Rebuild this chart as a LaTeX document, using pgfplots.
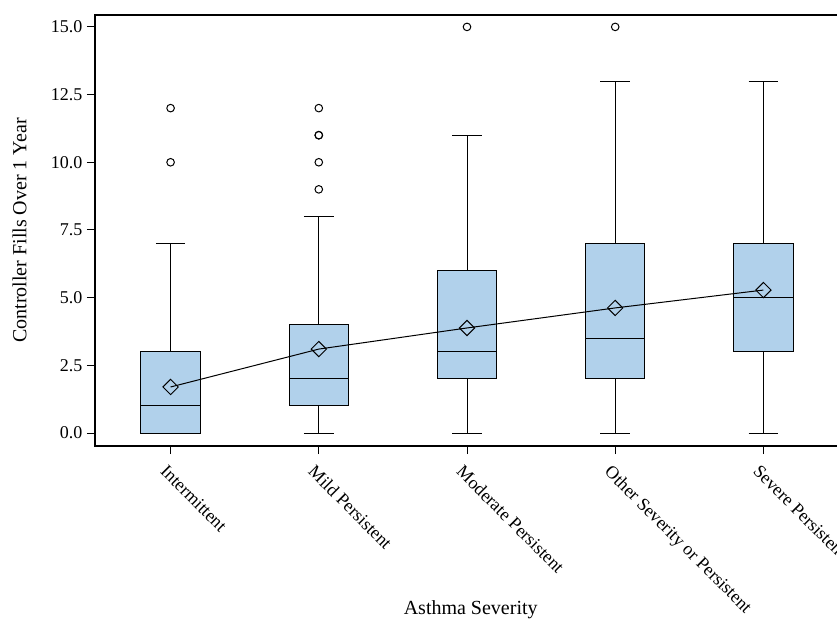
\documentclass[border=0pt]{standalone}
\usepackage{fontspec}
\setmainfont{Liberation Serif}
\usepackage{pgfplots}
\usepgfplotslibrary{statistics}
\pgfplotsset{compat=1.18}
\definecolor{boxblue}{RGB}{177,209,235}
\begin{document}
\begin{tikzpicture}[x=1pt,y=1pt]
\begin{axis}[
  at={(95pt,173pt)}, anchor=south west,
  scale only axis, width=744pt, height=431pt,
  xmin=-0.51, xmax=4.51, ymin=-0.48, ymax=15.44,
  axis line style={line width=1.3pt},
  xtick={0,1,2,3,4},
  xticklabels={Intermittent,Mild Persistent,Moderate Persistent,Other Severity or Persistent,Severe Persistent},
  ytick={0,2.5,5,7.5,10,12.5,15},
  yticklabel style={/pgf/number format/fixed,/pgf/number format/fixed zerofill,/pgf/number format/precision=1,/pgf/number format/assume math mode=true, xshift=-1pt},
  tick align=outside, major tick length=8pt,
  xtick pos=bottom, ytick pos=left,
  tick style={line width=1pt,black},
  tick label style={font=\fontsize{18}{21}\selectfont},
  xticklabel style={rotate=-45, anchor=north west, xshift=1.8pt, yshift=-5.5pt},
  label style={font=\fontsize{20}{24}\selectfont},
  xlabel={Asthma Severity},
  ylabel={Controller Fills Over 1 Year},
  xlabel style={at={(axis description cs:0.505,-0.392)}, anchor=base},
  ylabel style={at={(axis description cs:-0.0921,0.5)}, rotate=0, anchor=base},
  boxplot/draw direction=y,
  boxplot/box extend=0.4,
  boxplot/whisker extend=0.2,
  clip=false,
]
\addplot[boxplot prepared={draw position=0, lower whisker=0, lower quartile=0, median=1, upper quartile=3, upper whisker=7},
  draw=black, fill=boxblue, line width=1pt] coordinates {};
\addplot[boxplot prepared={draw position=1, lower whisker=0, lower quartile=1, median=2, upper quartile=4, upper whisker=8},
  draw=black, fill=boxblue, line width=1pt] coordinates {};
\addplot[boxplot prepared={draw position=2, lower whisker=0, lower quartile=2, median=3, upper quartile=6, upper whisker=11},
  draw=black, fill=boxblue, line width=1pt] coordinates {};
\addplot[boxplot prepared={draw position=3, lower whisker=0, lower quartile=2, median=3.5, upper quartile=7, upper whisker=13},
  draw=black, fill=boxblue, line width=1pt] coordinates {};
\addplot[boxplot prepared={draw position=4, lower whisker=0, lower quartile=3, median=5, upper quartile=7, upper whisker=13},
  draw=black, fill=boxblue, line width=1pt] coordinates {};
% outliers
\addplot[only marks, mark=o, mark size=3.8pt, mark options={line width=1pt, black}] coordinates {
  (0,10) (0,12)
  (1,9) (1,10) (1,11) (1,11) (1,12)
  (2,15)
  (3,15)
};
% means
\addplot[black, line width=1pt, mark=square, mark size=5.4pt, mark options={rotate=45, line width=1pt, solid}] coordinates {
  (0,1.70) (1,3.10) (2,3.88) (3,4.62) (4,5.28)
};
\end{axis}
\pgfresetboundingbox
\useasboundingbox (0,0) rectangle (837pt,619pt);
\end{tikzpicture}
\end{document}
